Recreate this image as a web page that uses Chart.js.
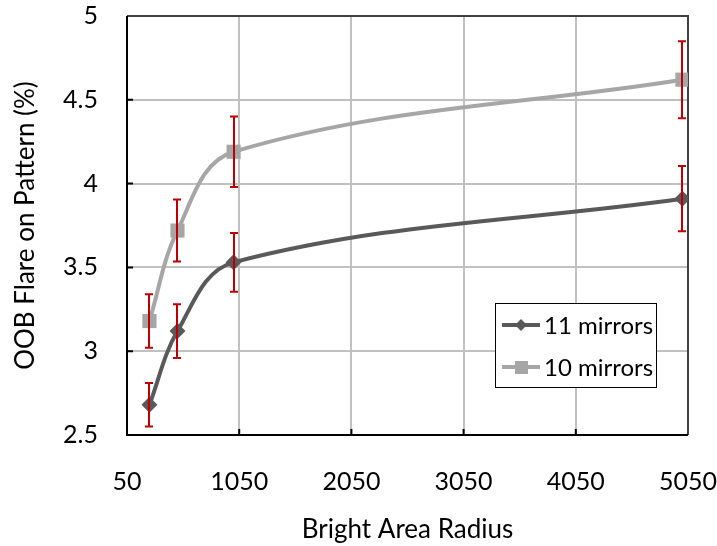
<!DOCTYPE html>
<html>
<head>
<meta charset="utf-8">
<script src="https://cdn.jsdelivr.net/npm/chart.js@4.4.1/dist/chart.umd.min.js"></script>
<style>
  html, body { margin: 0; padding: 0; background: #fff; }
  #wrap { width: 717px; height: 546px; }
</style>
</head>
<body>
<div id="wrap"><canvas id="myChart" width="717" height="546"></canvas></div>
<script>
// values
const radius = [250, 500, 1000, 5000];
const flare11 = [2.68, 3.12, 3.53, 3.91];
const err11 = [0.13, 0.16, 0.175, 0.195];
const flare10 = [3.18, 3.72, 4.19, 4.62];
const err10 = [0.16, 0.185, 0.21, 0.23];
const xTicks = [50, 1050, 2050, 3050, 4050, 5050];
const yTicks = [2.5, 3, 3.5, 4, 4.5, 5];

const FONT = 'Lato, "Open Sans", sans-serif';
const SMOOTH = 0.35;

function toPoints(ys) {
  return radius.map((x, i) => ({ x: x, y: ys[i] }));
}

// excel-like smoothing: tangent from neighbours, handle scaled by segment length
const smoothLines = {
  id: 'smoothLines',
  beforeDatasetsDraw(chart) {
    chart.data.datasets.forEach((ds, di) => {
      const meta = chart.getDatasetMeta(di);
      const line = meta.dataset;
      if (line.updateControlPoints) line.updateControlPoints(chart.chartArea, 'x');
      const pts = meta.data;
      const n = pts.length;
      for (let i = 0; i < n; i++) {
        const p = pts[i];
        const prev = pts[Math.max(i - 1, 0)];
        const next = pts[Math.min(i + 1, n - 1)];
        let dx = next.x - prev.x, dy = next.y - prev.y;
        const len = Math.hypot(dx, dy) || 1;
        dx /= len; dy /= len;
        const dPrev = Math.hypot(p.x - prev.x, p.y - prev.y);
        const dNext = Math.hypot(next.x - p.x, next.y - p.y);
        p.cp1x = p.x - dx * SMOOTH * dPrev;
        p.cp1y = p.y - dy * SMOOTH * dPrev;
        p.cp2x = p.x + dx * SMOOTH * dNext;
        p.cp2y = p.y + dy * SMOOTH * dNext;
      }
      line._pointsUpdated = true;
      line._path = undefined;
    });
  }
};

// red error bars, drawn through the scales
const errorBars = {
  id: 'errorBars',
  afterDatasetsDraw(chart) {
    const ctx = chart.ctx;
    const xs = chart.scales.x, ys = chart.scales.y;
    const sets = [[flare11, err11], [flare10, err10]];
    ctx.save();
    ctx.strokeStyle = '#c00000';
    ctx.lineWidth = 2;
    sets.forEach(([vals, errs]) => {
      vals.forEach((v, i) => {
        const px = Math.round(xs.getPixelForValue(radius[i]));
        const top = ys.getPixelForValue(v + errs[i]);
        const bot = ys.getPixelForValue(v - errs[i]);
        ctx.beginPath();
        ctx.moveTo(px, top); ctx.lineTo(px, bot);
        ctx.moveTo(px - 4, top); ctx.lineTo(px + 4, top);
        ctx.moveTo(px - 4, bot); ctx.lineTo(px + 4, bot);
        ctx.stroke();
      });
    });
    ctx.restore();
  }
};

// box round the plot, inward tick marks, and the legend box
const frame = {
  id: 'frame',
  beforeDatasetsDraw(chart) {
    const ctx = chart.ctx;
    const a = chart.chartArea;
    ctx.save();
    ctx.strokeStyle = '#000';
    ctx.lineWidth = 2;
    ctx.beginPath();
    chart.scales.y.ticks.forEach(t => {
      const py = chart.scales.y.getPixelForValue(t.value);
      ctx.moveTo(a.left, py); ctx.lineTo(a.left + 6, py);
    });
    chart.scales.x.ticks.forEach(t => {
      const px = chart.scales.x.getPixelForValue(t.value);
      ctx.moveTo(px, a.bottom); ctx.lineTo(px, a.bottom - 6);
    });
    ctx.stroke();
    ctx.strokeStyle = '#404040';
    ctx.beginPath();
    ctx.moveTo(a.left, a.top); ctx.lineTo(a.right, a.top); ctx.lineTo(a.right, a.bottom);
    ctx.stroke();
    ctx.strokeStyle = '#000';
    ctx.beginPath();
    ctx.moveTo(a.left, a.top); ctx.lineTo(a.left, a.bottom); ctx.lineTo(a.right, a.bottom);
    ctx.stroke();
    ctx.restore();
  },
  afterDraw(chart) {
    const ctx = chart.ctx;
    const bx = 495, by = 303, bw = 161, bh = 84;
    ctx.save();
    ctx.fillStyle = '#fff';
    ctx.fillRect(bx, by, bw, bh);
    ctx.strokeStyle = '#000';
    ctx.lineWidth = 1;
    ctx.strokeRect(bx + 0.5, by + 0.5, bw, bh);
    chart.data.datasets.forEach((ds, i) => {
      const cy = by + 22 + i * 42;
      ctx.strokeStyle = ds.borderColor;
      ctx.lineWidth = 4;
      ctx.beginPath();
      ctx.moveTo(bx + 7, cy); ctx.lineTo(bx + 45, cy);
      ctx.stroke();
      ctx.fillStyle = ds.backgroundColor;
      ctx.beginPath();
      if (ds.pointStyle === 'rectRot') {
        ctx.moveTo(bx + 26, cy - 6); ctx.lineTo(bx + 32, cy);
        ctx.lineTo(bx + 26, cy + 6); ctx.lineTo(bx + 20, cy);
        ctx.closePath(); ctx.fill();
      } else {
        ctx.fillRect(bx + 20, cy - 6, 13, 13);
      }
      ctx.fillStyle = '#000';
      ctx.font = '24px ' + FONT;
      ctx.textBaseline = 'middle';
      ctx.fillText(ds.label, bx + 49, cy + 1);
    });
    ctx.restore();
  }
};

const myChart = document.getElementById('myChart');

let lineChart = new Chart(myChart, {
  type: 'line',
  data: {
    datasets: [
      {
        label: '11 mirrors',
        data: toPoints(flare11),
        borderColor: '#595959',
        backgroundColor: '#595959',
        borderWidth: 4,
        pointStyle: 'rectRot',
        pointRadius: 8,
        pointBorderWidth: 0,
        tension: 0.4
      },
      {
        label: '10 mirrors',
        data: toPoints(flare10),
        borderColor: '#a6a6a6',
        backgroundColor: '#a6a6a6',
        borderWidth: 4,
        pointStyle: 'rect',
        pointRadius: 10,
        pointBorderWidth: 0,
        tension: 0.4
      }
    ]
  },
  options: {
    responsive: false,
    animation: false,
    layout: { padding: { left: 0, right: 29, top: 16, bottom: 0 } },
    plugins: {
      legend: { display: false },
      tooltip: { enabled: false }
    },
    scales: {
      x: {
        type: 'linear',
        min: 50,
        max: 5050,
        afterBuildTicks: s => { s.ticks = xTicks.map(v => ({ value: v })); },
        afterFit: s => { s.height = 111; s.paddingLeft = 0; s.paddingRight = 0; },
        grid: { color: '#c0c0c0', lineWidth: 2, drawTicks: false },
        border: { display: false },
        ticks: {
          padding: 32,
          color: '#000',
          font: { family: FONT, size: 25 },
          maxRotation: 0,
          callback: v => String(v)
        },
        title: {
          display: true,
          text: 'Bright Area Radius',
          color: '#000',
          font: { family: FONT, size: 26 },
          padding: { top: 0, bottom: 1 }
        }
      },
      y: {
        min: 2.5,
        max: 5,
        afterBuildTicks: s => { s.ticks = yTicks.map(v => ({ value: v })); },
        afterFit: s => { s.width = 127; s.paddingTop = 0; s.paddingBottom = 0; },
        grid: { color: '#c0c0c0', lineWidth: 2, drawTicks: false },
        border: { display: false },
        ticks: {
          padding: 29,
          color: '#000',
          font: { family: FONT, size: 25 },
          callback: v => String(v)
        },
        title: {
          display: true,
          text: 'OOB Flare on Pattern (%)',
          color: '#000',
          font: { family: FONT, size: 26 },
          padding: { top: 10, bottom: 0 }
        }
      }
    }
  },
  plugins: [frame, smoothLines, errorBars]
});
</script>
</body>
</html>
